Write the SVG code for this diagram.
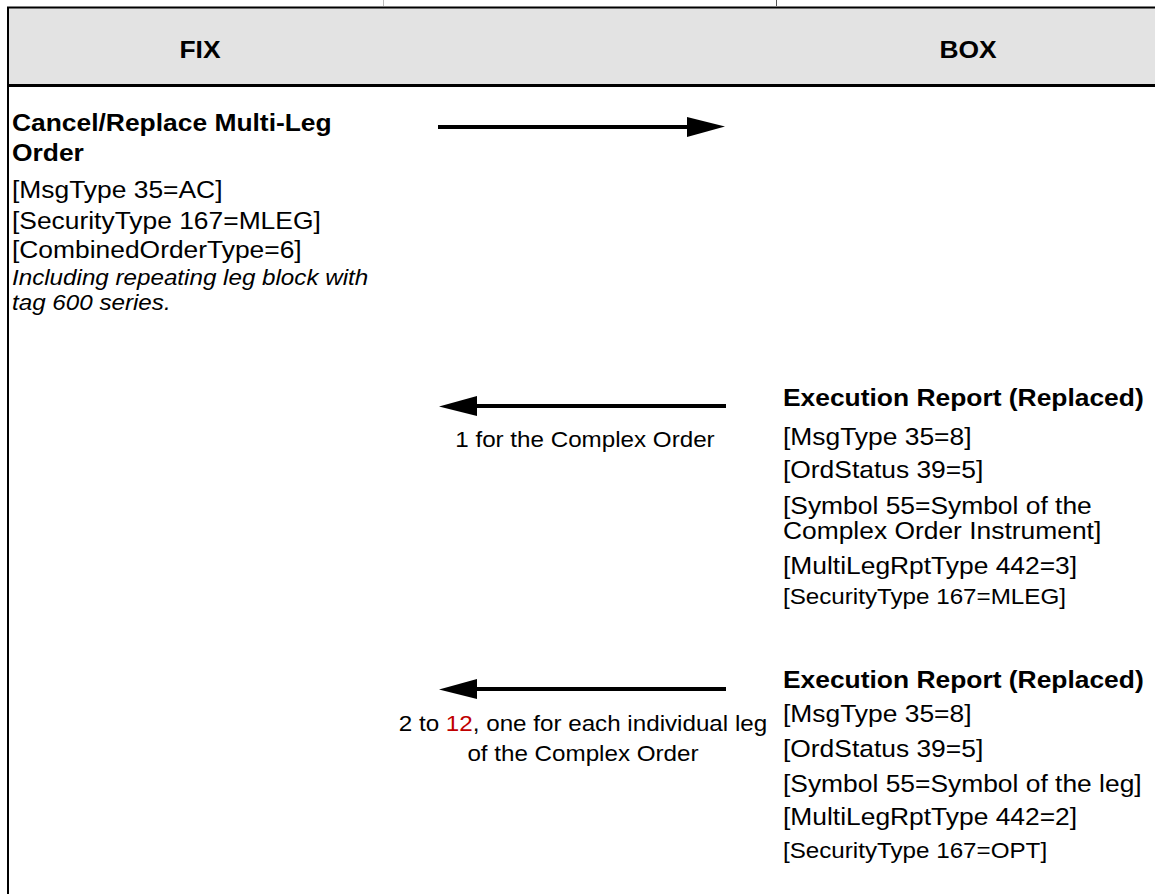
<svg xmlns="http://www.w3.org/2000/svg" width="1155" height="894" viewBox="0 0 1155 894">
<style>
text{font-family:"Liberation Sans",Arial,sans-serif;fill:#000}
.h{font-size:24px;font-weight:bold}
.b{font-size:24px;font-weight:bold}
.r{font-size:24px}
.s{font-size:22px}
.i{font-size:22px;font-style:italic}
.lbl{font-size:22px;text-anchor:middle}
.conn{stroke:#000;stroke-width:4;fill:none}
</style>
<defs>
<marker id="ah" viewBox="0 0 38 20" refX="0" refY="10" markerWidth="38" markerHeight="20" markerUnits="userSpaceOnUse" orient="auto">
<path d="M0,0 L38,9.5 L0,20 Z" fill="#000"/>
</marker>
</defs>
<rect width="1155" height="894" fill="#fff"/>
<g id="header">
<rect x="8" y="8" width="1147" height="77" fill="#e3e3e3"/>
<line x1="7" y1="7.5" x2="1155" y2="7.5" stroke="#000" stroke-width="2"/>
<line x1="8" y1="85.5" x2="1155" y2="85.5" stroke="#000" stroke-width="3"/>
<line x1="383.5" y1="0" x2="383.5" y2="6" stroke="#bbb" stroke-width="1"/>
<line x1="776.5" y1="0" x2="776.5" y2="6" stroke="#555" stroke-width="1"/>
<g transform="scale(1.1 1)">
<text class="h" x="181.8" y="58" text-anchor="middle">FIX</text>
<text class="h" x="880" y="58" text-anchor="middle">BOX</text>
</g>
</g>
<line x1="8" y1="7" x2="8" y2="894" stroke="#000" stroke-width="2"/>
<g id="fix-request" transform="scale(1.1 1)">
<text class="b" x="10.9" y="131">Cancel/Replace Multi-Leg</text>
<text class="b" x="10.9" y="161">Order</text>
<text class="r" x="10.9" y="198">[MsgType 35=AC]</text>
<text class="r" x="10.9" y="229">[SecurityType 167=MLEG]</text>
<text class="r" x="10.9" y="258">[CombinedOrderType=6]</text>
<text class="i" x="10.9" y="285">Including repeating leg block with</text>
<text class="i" x="10.9" y="310">tag 600 series.</text>
</g>
<g id="box-report-complex" transform="scale(1.1 1)">
<text class="b" x="711.8" y="406">Execution Report (Replaced)</text>
<text class="r" x="711.8" y="445">[MsgType 35=8]</text>
<text class="r" x="711.8" y="478">[OrdStatus 39=5]</text>
<text class="r" x="711.8" y="514">[Symbol 55=Symbol of the</text>
<text class="r" x="711.8" y="539">Complex Order Instrument]</text>
<text class="r" x="711.8" y="574">[MultiLegRptType 442=3]</text>
<text class="s" x="711.8" y="604">[SecurityType 167=MLEG]</text>
</g>
<g id="box-report-legs" transform="scale(1.1 1)">
<text class="b" x="711.8" y="688">Execution Report (Replaced)</text>
<text class="r" x="711.8" y="722">[MsgType 35=8]</text>
<text class="r" x="711.8" y="757">[OrdStatus 39=5]</text>
<text class="r" x="711.8" y="792">[Symbol 55=Symbol of the leg]</text>
<text class="r" x="711.8" y="825">[MultiLegRptType 442=2]</text>
<text class="s" x="711.8" y="858">[SecurityType 167=OPT]</text>
</g>
<g id="connectors">
<line class="conn" x1="438" y1="127" x2="687" y2="127" marker-end="url(#ah)"/>
<line class="conn" x1="726" y1="406" x2="477" y2="406" marker-end="url(#ah)"/>
<line class="conn" x1="726" y1="689" x2="477" y2="689" marker-end="url(#ah)"/>
<g transform="scale(1.1 1)">
<text class="lbl" x="531.8" y="447">1 for the Complex Order</text>
<text class="lbl" x="530" y="731">2 to <tspan fill="#c00000">12</tspan>, one for each individual leg</text>
<text class="lbl" x="530" y="761">of the Complex Order</text>
</g>
</g>
</svg>
